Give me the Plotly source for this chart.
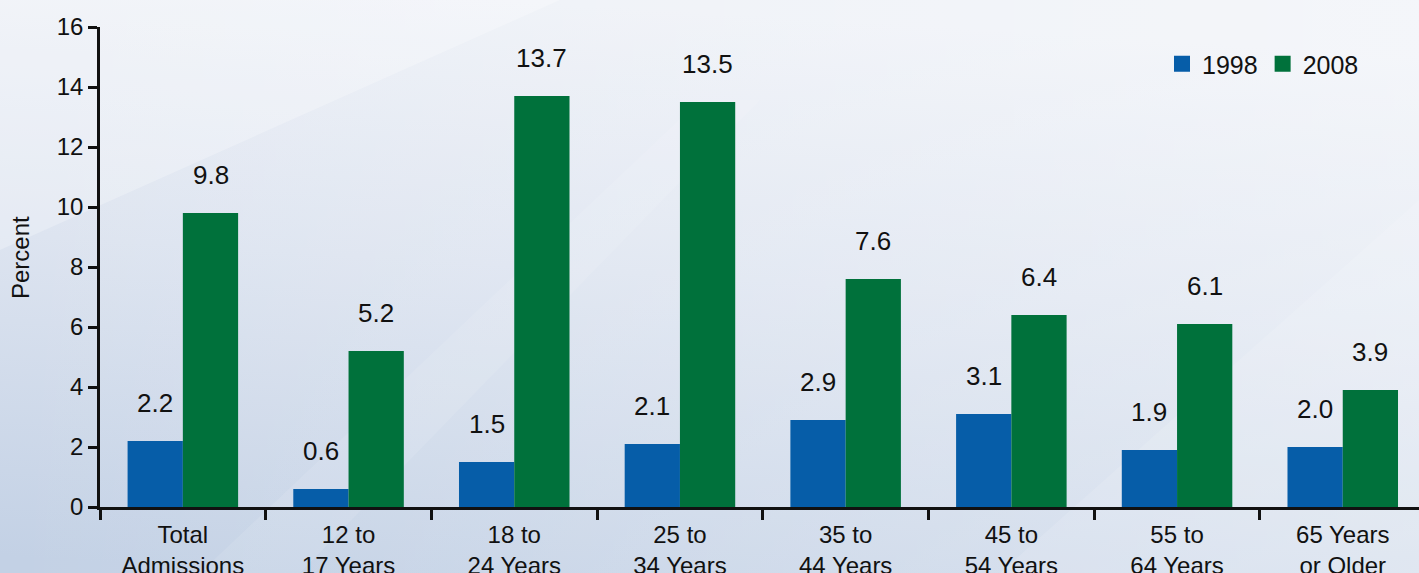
import base64
import plotly.graph_objects as go

categories = ["Total<br>Admissions", "12 to<br>17 Years", "18 to<br>24 Years", "25 to<br>34 Years",
              "35 to<br>44 Years", "45 to<br>54 Years", "55 to<br>64 Years", "65 Years<br>or Older"]
values_1998 = [2.2, 0.6, 1.5, 2.1, 2.9, 3.1, 1.9, 2.0]
values_2008 = [9.8, 5.2, 13.7, 13.5, 7.6, 6.4, 6.1, 3.9]
series_names = ["1998", "2008"]
colors = ["#065DA8", "#00713B"]

FONT = "Liberation Sans, Arial, Helvetica, sans-serif"

W, H = 1419, 573
L, T, B = 100, 27, 66
plot_w, plot_h = W - L, H - T - B

svg = f'''<svg xmlns="http://www.w3.org/2000/svg" width="{W}" height="{H}" viewBox="0 0 {W} {H}">
<defs>
<linearGradient id="g1" x1="0.35" y1="0" x2="0.2" y2="1">
<stop offset="0" stop-color="#eef1f7"/><stop offset="0.45" stop-color="#dde4f0"/><stop offset="1" stop-color="#c3d1e5"/>
</linearGradient>
<linearGradient id="g2" x1="0" y1="0" x2="1" y2="0">
<stop offset="0" stop-color="#ffffff" stop-opacity="0"/><stop offset="1" stop-color="#ffffff" stop-opacity="0.35"/>
</linearGradient>
</defs>
<rect width="{W}" height="{H}" fill="url(#g1)"/>
<rect width="{W}" height="{H}" fill="url(#g2)"/>
<polygon points="0,0 560,0 0,250" fill="#ffffff" opacity="0.25"/>
<polygon points="1000,573 1419,200 1419,573" fill="#ffffff" opacity="0.12"/>
<polygon points="200,573 700,100 760,100 300,573" fill="#ffffff" opacity="0.10"/>
</svg>'''
src = "data:image/svg+xml;base64," + base64.b64encode(svg.encode()).decode()

fig = go.Figure()
for name, vals, col in zip(series_names, [values_1998, values_2008], colors):
    fig.add_trace(go.Bar(x=categories, y=vals, name=name, marker=dict(color=col, line=dict(width=0)),
                         showlegend=False, hoverinfo="skip"))
    fig.add_trace(go.Scatter(x=[None], y=[None], mode="markers", name=name,
                             marker=dict(symbol="square", size=17, color=col)))

bar_half = 27.7
for vals, shift in [(values_1998, -bar_half), (values_2008, bar_half)]:
    for c, v in zip(categories, vals):
        fig.add_annotation(x=c, y=v, text=f"{v:.1f}", showarrow=False, xshift=shift, yshift=21,
                           yanchor="bottom", font=dict(size=26, color="#111111", family=FONT))

fig.add_annotation(xref="paper", yref="paper", x=(20 - L) / plot_w, y=(H - B - 258) / plot_h,
                   xanchor="center", yanchor="middle",
                   text="Percent", textangle=-90, showarrow=False,
                   font=dict(size=24, color="#111111", family=FONT))

fig.add_layout_image(dict(source=src, xref="paper", yref="paper", x=-L / plot_w, y=(plot_h + T) / plot_h,
                          sizex=W / plot_w, sizey=H / plot_h, xanchor="left", yanchor="top",
                          sizing="stretch", layer="below"))

fig.update_layout(
    width=W, height=H,
    margin=dict(l=L, r=0, t=T, b=B),
    paper_bgcolor="#d6dfec", plot_bgcolor="rgba(0,0,0,0)",
    barmode="group", bargap=0.333, bargroupgap=0,
    font=dict(family=FONT, color="#111111", size=24),
    legend=dict(orientation="h", x=(1162 - L) / plot_w, y=(H - B - 64) / plot_h, xanchor="left",
                yanchor="middle", bgcolor="rgba(0,0,0,0)", font=dict(size=25, family=FONT),
                itemwidth=30, tracegroupgap=0),
    xaxis=dict(range=[-0.5, -0.5 + plot_w / 165.7], showline=True, linecolor="#111111", linewidth=2.5,
               ticks="outside", tickson="boundaries", ticklen=10, tickwidth=2.5, tickcolor="#111111",
               showgrid=False, zeroline=False, tickfont=dict(size=24), ticklabelstandoff=4,
               automargin=False, fixedrange=True),
    yaxis=dict(range=[0, 16], dtick=2, showline=True, linecolor="#111111", linewidth=2.5,
               ticks="outside", ticklen=9, tickwidth=2.5, tickcolor="#111111",
               showgrid=False, zeroline=False, tickfont=dict(size=24), automargin=False, fixedrange=True),
)

fig.write_html("out.html", config={"displayModeBar": False},
               post_script="document.body.style.margin='0px';document.body.style.overflow='hidden';")
